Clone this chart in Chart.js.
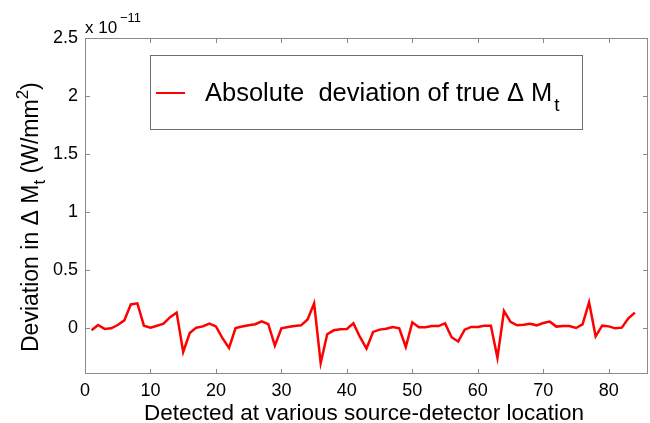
<!DOCTYPE html>
<html lang="en">
<head>
    <meta charset="UTF-8">
    <title>Absolute deviation of true ΔMt</title>
    <script src="https://cdn.jsdelivr.net/npm/chart.js"></script>
    <style>
        body { margin: 0; background: #fff; }
    </style>
</head>
<body>
    <canvas id="devChart" width="650" height="423"></canvas>
    <script>
        // detector location index (1..84) and deviation (in units of 1e-11 W/mm^2)
        const locations = [
            1, 2, 3, 4, 5, 6, 7, 8, 9, 10, 11, 12, 13, 14, 15, 16, 17, 18, 19, 20, 21,
            22, 23, 24, 25, 26, 27, 28, 29, 30, 31, 32, 33, 34, 35, 36, 37, 38, 39, 40, 41, 42,
            43, 44, 45, 46, 47, 48, 49, 50, 51, 52, 53, 54, 55, 56, 57, 58, 59, 60, 61, 62, 63,
            64, 65, 66, 67, 68, 69, 70, 71, 72, 73, 74, 75, 76, 77, 78, 79, 80, 81, 82, 83, 84
        ];
        const deviation = [
            -0.023, 0.023, -0.011, -0.006, 0.023, 0.063, 0.20, 0.21, 0.017, 0.0,
            0.017, 0.034, 0.09, 0.13, -0.21, -0.046, 0.0, 0.011, 0.034, 0.011,
            -0.09, -0.175, -0.003, 0.01, 0.02, 0.03, 0.055, 0.03, -0.155, -0.006,
            0.006, 0.015, 0.02, 0.07, 0.21, -0.305, -0.057, -0.023, -0.014, -0.011,
            0.037, -0.08, -0.18, -0.037, -0.017, -0.009, 0.006, -0.006, -0.167, 0.046,
            0.003, 0.003, 0.014, 0.014, 0.037, -0.083, -0.12, -0.017, 0.006, 0.006,
            0.017, 0.017, -0.26, 0.144, 0.05, 0.02, 0.026, 0.034, 0.02, 0.04,
            0.052, 0.009, 0.014, 0.014, -0.003, 0.029, 0.22, -0.075, 0.017, 0.011,
            -0.006, 0.0, 0.08, 0.13
        ];
        const xTicks = [0, 10, 20, 30, 40, 50, 60, 70, 80];
        const yTicks = [0, 0.5, 1, 1.5, 2, 2.5];
        const seriesLabel = 'Absolute  deviation of true \u0394 M';

        const FONT = '"Liberation Sans", Arial, Helvetica, sans-serif';
        const AXIS_GRAY = '#8a8a8a';

        // frame, inward ticks, legend and the texts with sub/superscripts
        const matlabLook = {
            id: 'matlabLook',
            afterDatasetsDraw(chart) {
                const ctx = chart.ctx;
                const a = chart.chartArea;
                const xs = chart.scales.x, ys = chart.scales.y;
                ctx.save();
                ctx.strokeStyle = AXIS_GRAY;
                ctx.lineWidth = 1;
                ctx.strokeRect(a.left + 0.5, a.top + 0.5, a.right - a.left - 1, a.bottom - a.top - 1);
                ctx.beginPath();
                xTicks.forEach(v => {
                    const px = Math.round(xs.getPixelForValue(v)) + 0.5;
                    ctx.moveTo(px, a.bottom); ctx.lineTo(px, a.bottom - 5);
                    ctx.moveTo(px, a.top); ctx.lineTo(px, a.top + 5);
                });
                yTicks.forEach(v => {
                    const py = Math.round(ys.getPixelForValue(v)) + 0.5;
                    ctx.moveTo(a.left, py); ctx.lineTo(a.left + 5, py);
                    ctx.moveTo(a.right, py); ctx.lineTo(a.right - 5, py);
                });
                ctx.stroke();

                // legend box
                ctx.fillStyle = '#fff';
                ctx.fillRect(150, 55, 432, 74);
                ctx.strokeStyle = '#6e6e6e';
                ctx.strokeRect(150.5, 55.5, 432, 74);
                ctx.strokeStyle = '#ff0000';
                ctx.lineWidth = 2;
                ctx.beginPath();
                ctx.moveTo(156, 93); ctx.lineTo(185, 93);
                ctx.stroke();
                ctx.fillStyle = '#000';
                ctx.textBaseline = 'alphabetic';
                ctx.textAlign = 'left';
                ctx.font = '25.5px ' + FONT;
                ctx.fillText(seriesLabel, 205, 101);
                const w = ctx.measureText(seriesLabel).width;
                ctx.font = '19px ' + FONT;
                ctx.fillText('t', 205 + w + 2, 111);

                // exponent label
                ctx.font = '17px ' + FONT;
                ctx.fillText('x 10', 85, 33);
                ctx.font = '13px ' + FONT;
                ctx.fillText('\u221211', 120, 22);

                // x title
                ctx.font = '22.5px ' + FONT;
                ctx.textAlign = 'center';
                ctx.fillText('Detected at various source-detector location', 364, 420);

                // y title (rotated, with subscript and superscript)
                ctx.translate(38, 352);
                ctx.rotate(-Math.PI / 2);
                ctx.textAlign = 'left';
                const parts = [
                    ['Deviation in \u0394 M', 23, 0],
                    ['t', 17, 7],
                    [' (W/mm', 23, 0],
                    ['2', 17, -10],
                    [')', 23, 0]
                ];
                let x = 0;
                parts.forEach(([t, size, dy]) => {
                    ctx.font = size + 'px ' + FONT;
                    ctx.fillText(t, x, dy);
                    x += ctx.measureText(t).width;
                });
                ctx.restore();
            }
        };

        const ctx = document.getElementById('devChart').getContext('2d');
        new Chart(ctx, {
            type: 'line',
            data: {
                datasets: [{
                    label: seriesLabel,
                    data: locations.map((loc, i) => ({ x: loc, y: deviation[i] })),
                    borderColor: '#ff0000',
                    backgroundColor: '#ff0000',
                    borderWidth: 2.5,
                    pointRadius: 0,
                    tension: 0,
                    fill: false
                }]
            },
            options: {
                responsive: false,
                animation: false,
                layout: { padding: { left: 0, right: 2, top: 38, bottom: 0 } },
                plugins: { legend: { display: false }, tooltip: { enabled: false } },
                scales: {
                    x: {
                        type: 'linear',
                        min: 0,
                        max: 86,
                        afterBuildTicks: s => { s.ticks = xTicks.map(v => ({ value: v })); },
                        afterFit: s => { s.height = 49; },
                        grid: { display: false, drawTicks: false },
                        border: { display: false },
                        ticks: { color: '#000', padding: 6, maxRotation: 0, font: { family: FONT, size: 18 } }
                    },
                    y: {
                        min: -0.4,
                        max: 2.5,
                        afterBuildTicks: s => { s.ticks = yTicks.map(v => ({ value: v })); },
                        afterFit: s => { s.width = 85; },
                        grid: { display: false, drawTicks: false },
                        border: { display: false },
                        ticks: {
                            color: '#000', padding: 7, font: { family: FONT, size: 18 },
                            callback: v => String(v)
                        }
                    }
                }
            },
            plugins: [matlabLook]
        });
    </script>
</body>
</html>
